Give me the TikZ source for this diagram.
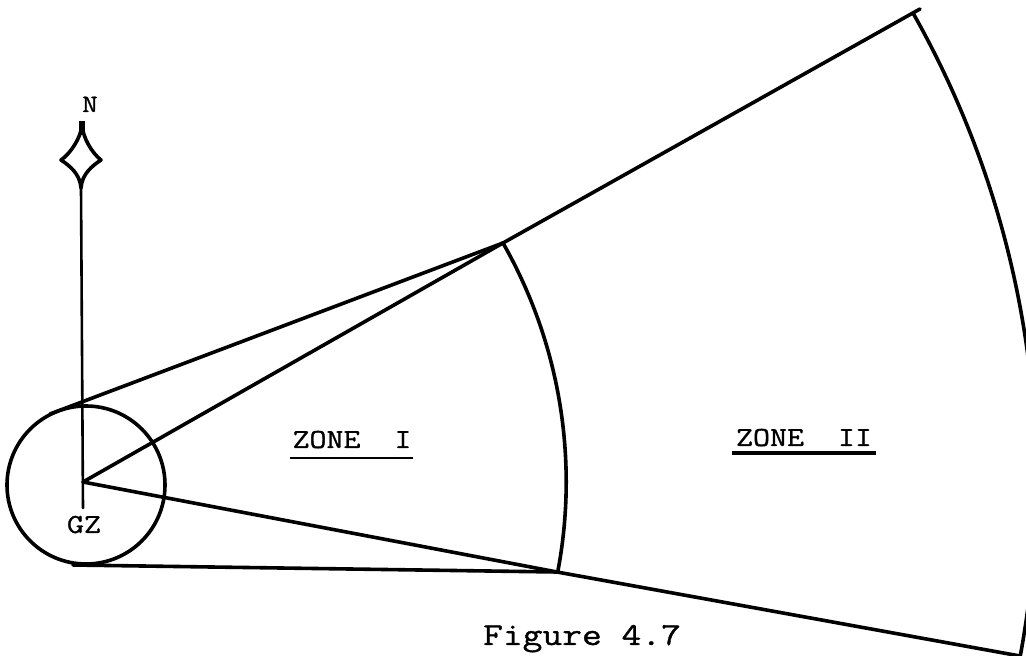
\documentclass[tikz,border=0pt]{standalone}
\usepackage{fontspec}
\newfontfamily\courfont[FakeStretch=1.2,FakeBold=1.2]{Latin Modern Mono}
\begin{document}
\begin{tikzpicture}[x=1pt,y=1pt,line cap=round,line join=round,
  heavy/.style={line width=3.6pt},
  thin/.style={line width=2.6pt},
  lbl/.style={inner sep=0pt,anchor=base},
  zone/.style={lbl,font=\courfont\fontsize{27.5}{32}\selectfont},
  uline/.style={line width=2.6pt,line cap=butt}]
\useasboundingbox (0,0) rectangle (1026,656);
\clip (0,0) rectangle (1026,656);
% key points
\coordinate (GZ) at (83,174);
\coordinate (C) at (86,171);
\coordinate (T0) at (50,242);
\coordinate (B0) at (73,91);
\coordinate (A1) at (503,413);
\coordinate (B1) at (557,84);
\coordinate (A2) at (913,643);
\coordinate (A2x) at (920,647);
\coordinate (B2) at (1020,0);
\coordinate (Nbot) at (81,468);
\coordinate (Ntop) at (82,531);
\coordinate (Nr) at (101,496);
\coordinate (Nl) at (61,496);
\coordinate (Stub) at (82,535);
\coordinate (StubLow) at (82,521);
\coordinate (Vlow) at (83,148);
% ground zero circle
\draw[heavy] (C) circle[radius=79];
% north line and compass
\draw[thin] (Vlow) -- (Nbot);
\draw[heavy] (Ntop) .. controls (83,518) and (92,503) .. (Nr)
  .. controls (92,490) and (82,482) .. (Nbot)
  .. controls (80,482) and (70,490) .. (Nl)
  .. controls (70,502) and (81,518) .. (Ntop);
\draw[line width=6pt,line cap=butt] (StubLow) -- (Stub);
\node[lbl,font=\courfont\fontsize{25}{28}\selectfont] (N) at (90,544) {N};
\node[zone] (GZl) at (84,123) {GZ};
% rays
\draw[heavy] (T0) -- (A1);
\draw[heavy] (GZ) -- (A1);
\draw[heavy] (GZ) -- (B1);
\draw[heavy] (B0) -- (B1);
\draw[heavy] (A1) -- (A2x);
\draw[heavy] (B1) -- (B2);
% zone boundaries
\draw[heavy] (A1) arc[start angle=29.64, end angle=-10.75, radius=483];
\draw[heavy] (A2) arc[start angle=29.47, end angle=-10.6, radius=953];
% labels
\node[zone] (z1) at (352,208) {ZONE\ \ I};
\draw[uline] ([xshift=-2pt,yshift=-10pt]z1.base west) -- ([xshift=1pt,yshift=-10pt]z1.base east);
\node[zone] (z2) at (804,210) {ZONE\ \ II};
\draw[uline,line width=3.2pt] ([xshift=-4pt,yshift=-7pt]z2.base west) -- ([xshift=4pt,yshift=-7pt]z2.base east);
\node[lbl,font=\courfont\fontsize{32}{36}\selectfont] (fig) at (582,11) {Figure 4.7};
\end{tikzpicture}
\end{document}
